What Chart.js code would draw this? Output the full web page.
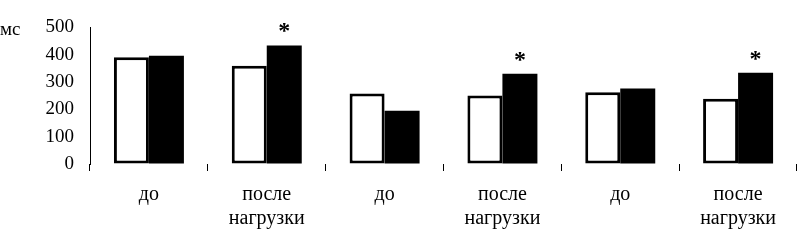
<!DOCTYPE html>
<html>
<head>
<meta charset="utf-8">
<script src="https://cdn.jsdelivr.net/npm/chart.js@4"></script>
<style>
  body { margin: 0; background: #fff; }
  #wrap { width: 801px; height: 240px; }
</style>
</head>
<body>
<div id="wrap"><canvas id="chart" width="801" height="240"></canvas></div>
<script>
const categories = ['до', ['после', 'нагрузки'], 'до', ['после', 'нагрузки'], 'до', ['после', 'нагрузки']];
const beforeValues = [391, 360, 258, 251, 263, 239];
const afterValues = [396, 434, 195, 330, 276, 334];
const significance = ['', '*', '', '*', '', '*'];
const yTicks = [0, 100, 200, 300, 400, 500];
const unitLabel = 'мс';

const serif = "'Liberation Serif', 'Times New Roman', serif";

// draws the unit label and the asterisks above the black bars
const extras = {
    id: 'extras',
    afterDatasetsDraw(chart) {
        const ctx = chart.ctx;
        const y = chart.scales.y;
        ctx.save();
        ctx.fillStyle = '#000';
        ctx.font = '19px ' + serif;
        ctx.textAlign = 'left';
        ctx.textBaseline = 'middle';
        ctx.fillText(unitLabel, 0, y.getPixelForValue(500) + 3);

        ctx.font = 'bold 24px ' + serif;
        ctx.textAlign = 'center';
        ctx.textBaseline = 'alphabetic';
        const bars = chart.getDatasetMeta(1).data;
        significance.forEach(function (s, i) {
            if (!s) return;
            const bar = bars[i];
            ctx.fillText(s, bar.x, bar.y - 7);
        });
        ctx.restore();
    }
};

new Chart(document.getElementById('chart').getContext('2d'), {
    type: 'bar',
    data: {
        labels: categories,
        datasets: [{
            label: 'до',
            data: beforeValues,
            backgroundColor: '#fff',
            borderColor: '#000',
            borderWidth: 3,
            borderSkipped: false,
            categoryPercentage: 0.594,
            barPercentage: 1.0
        }, {
            label: 'после',
            data: afterValues,
            backgroundColor: '#000',
            borderWidth: 0,
            categoryPercentage: 0.594,
            barPercentage: 1.0
        }]
    },
    options: {
        responsive: false,
        animation: false,
        layout: { padding: { top: 24, right: 4, left: 0, bottom: 0 } },
        plugins: {
            legend: { display: false },
            tooltip: { enabled: false }
        },
        scales: {
            x: {
                offset: true,
                border: { display: false },
                grid: {
                    offset: true,
                    drawOnChartArea: false,
                    drawTicks: true,
                    tickLength: 7,
                    color: '#000',
                    lineWidth: 1
                },
                ticks: {
                    color: '#000',
                    font: { family: serif, size: 20, lineHeight: 1.2 },
                    padding: 12,
                    maxRotation: 0
                },
                afterFit: function (scale) { scale.height = 76; }
            },
            y: {
                min: 0,
                max: 500,
                afterBuildTicks: function (scale) {
                    scale.ticks = yTicks.map(function (v) { return { value: v }; });
                },
                border: { display: true, color: '#000', width: 1 },
                grid: { display: true, drawOnChartArea: false, drawTicks: false },
                ticks: {
                    color: '#000',
                    font: { family: serif, size: 19 },
                    padding: 16
                },
                afterFit: function (scale) { scale.width = 90; }
            }
        }
    },
    plugins: [extras]
});
</script>
</body>
</html>
